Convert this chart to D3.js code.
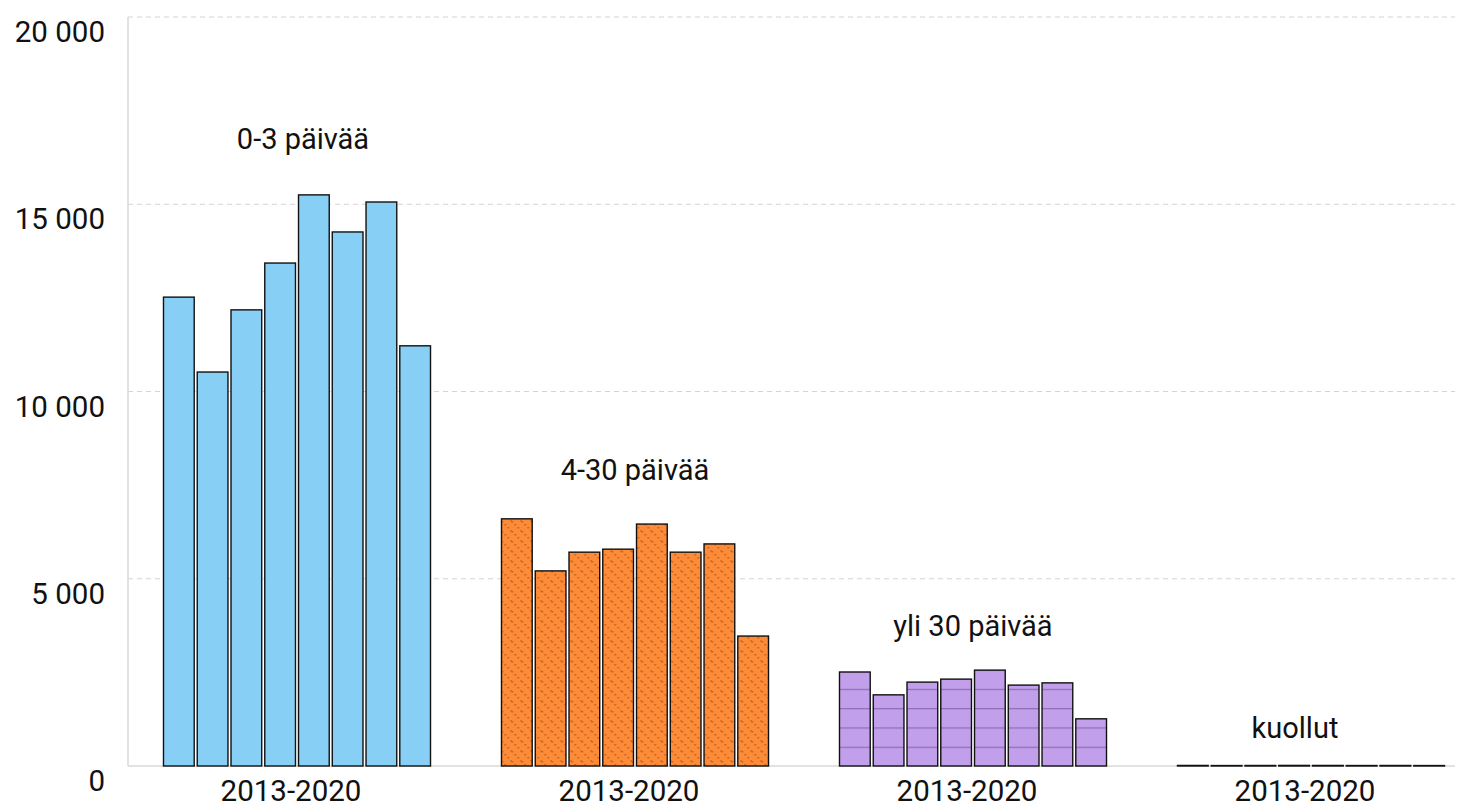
<!DOCTYPE html>
<html>
<head>
<meta charset="utf-8">
<script src="https://cdn.jsdelivr.net/npm/d3@7"></script>
<style>
  body { margin: 0; background: #fff; }
  text { font-family: Roboto, "Liberation Sans", sans-serif; fill: #111; }
</style>
</head>
<body>
<svg width="1459" height="805"></svg>
<script>
// data
var groups = ["0-3 päivää", "4-30 päivää", "yli 30 päivää", "kuollut"];
var years = ["2013", "2014", "2015", "2016", "2017", "2018", "2019", "2020"];
var periodLabel = "2013-2020";
var vals03 = [12520, 10520, 12180, 13430, 15250, 14260, 15060, 11220];
var vals430 = [6600, 5210, 5710, 5790, 6460, 5710, 5930, 3470];
var valsYli30 = [2510, 1900, 2240, 2320, 2560, 2160, 2220, 1260];
var valsKuollut = [15, 12, 14, 16, 15, 13, 14, 12];
var yTicks = [0, 5000, 10000, 15000, 20000];

var series = [vals03, vals430, valsYli30, valsKuollut];
var fills = ["#88cff5", "url(#dots)", "url(#hlines)", "#88cff5"];

var svg = d3.select("svg"),
    plotLeft = 128, plotRight = 1455, plotTop = 17, plotBottom = 766;

var defs = svg.append("defs");
var dots = defs.append("pattern")
    .attr("id", "dots").attr("patternUnits", "userSpaceOnUse")
    .attr("width", 10).attr("height", 10);
dots.append("rect").attr("width", 10).attr("height", 10).attr("fill", "#fd8b38");
[[0, 1], [3, 4], [6, 7], [9, 0]].forEach(function(p) {
    dots.append("rect").attr("x", p[0]).attr("y", p[1]).attr("width", 1.5).attr("height", 1.5)
        .attr("fill", "#9c4c14").attr("opacity", 0.75);
});
var hl = defs.append("pattern")
    .attr("id", "hlines").attr("patternUnits", "userSpaceOnUse")
    .attr("width", 10).attr("height", 19.3).attr("y", plotBottom);
hl.append("rect").attr("width", 10).attr("height", 19.3).attr("fill", "#c29fea");
hl.append("rect").attr("y", 0).attr("width", 10).attr("height", 1.2).attr("fill", "#8c6fae");

var y = d3.scaleLinear().domain([0, 20000]).range([plotBottom, plotTop]);
var x0 = d3.scaleBand().domain(groups).range([128, 1480]).paddingInner(0.21).paddingOuter(0.105);
var x1 = d3.scaleBand().domain(years).range([0, x0.bandwidth()]).paddingInner(0.09);

// grid
svg.append("g").selectAll("line")
    .data(yTicks.filter(function(d) { return d > 0; }))
    .enter().append("line")
    .attr("x1", plotLeft).attr("x2", plotRight)
    .attr("y1", function(d) { return y(d); }).attr("y2", function(d) { return y(d); })
    .attr("stroke", "#d4d4d4").attr("stroke-dasharray", "5,4");

svg.append("line").attr("x1", plotLeft).attr("x2", plotLeft).attr("y1", plotTop).attr("y2", plotBottom)
    .attr("stroke", "#d9d9d9").attr("stroke-width", 1.5);
svg.append("line").attr("x1", plotLeft).attr("x2", plotRight).attr("y1", plotBottom).attr("y2", plotBottom)
    .attr("stroke", "#d9d9d9").attr("stroke-width", 1.5);

// y labels
var fmt = function(d) { return d3.format(",")(d).replace(/,/g, " "); };
svg.append("g").selectAll("text")
    .data(yTicks).enter().append("text")
    .attr("x", 105).attr("y", function(d) { return y(d) + 25; })
    .attr("text-anchor", "end").attr("font-size", 29.5)
    .text(fmt);

// bars
groups.forEach(function(g, gi) {
    var gEl = svg.append("g").attr("transform", "translate(" + x0(g) + ",0)");
    gEl.selectAll("rect").data(series[gi]).enter().append("rect")
        .attr("x", function(d, i) { return x1(years[i]); })
        .attr("width", x1.bandwidth())
        .attr("y", function(d) { return y(d); })
        .attr("height", function(d) { return plotBottom - y(d); })
        .attr("fill", fills[gi])
        .attr("stroke", "#111").attr("stroke-width", 1.4);

    var cx = x0(g) + x0.bandwidth() / 2;
    var mx = d3.max(series[gi]);
    var dx = gi === 0 ? 6 : gi === 3 ? -16 : 0;
    svg.append("text").attr("x", cx + dx).attr("y", y(mx) - 27 - Math.sqrt(mx) * 0.15)
        .attr("text-anchor", "middle").attr("font-size", 29).text(g);
    svg.append("text").attr("x", cx - 6).attr("y", plotBottom + 35)
        .attr("text-anchor", "middle").attr("font-size", 29.5).text(periodLabel);
});
</script>
</body>
</html>
